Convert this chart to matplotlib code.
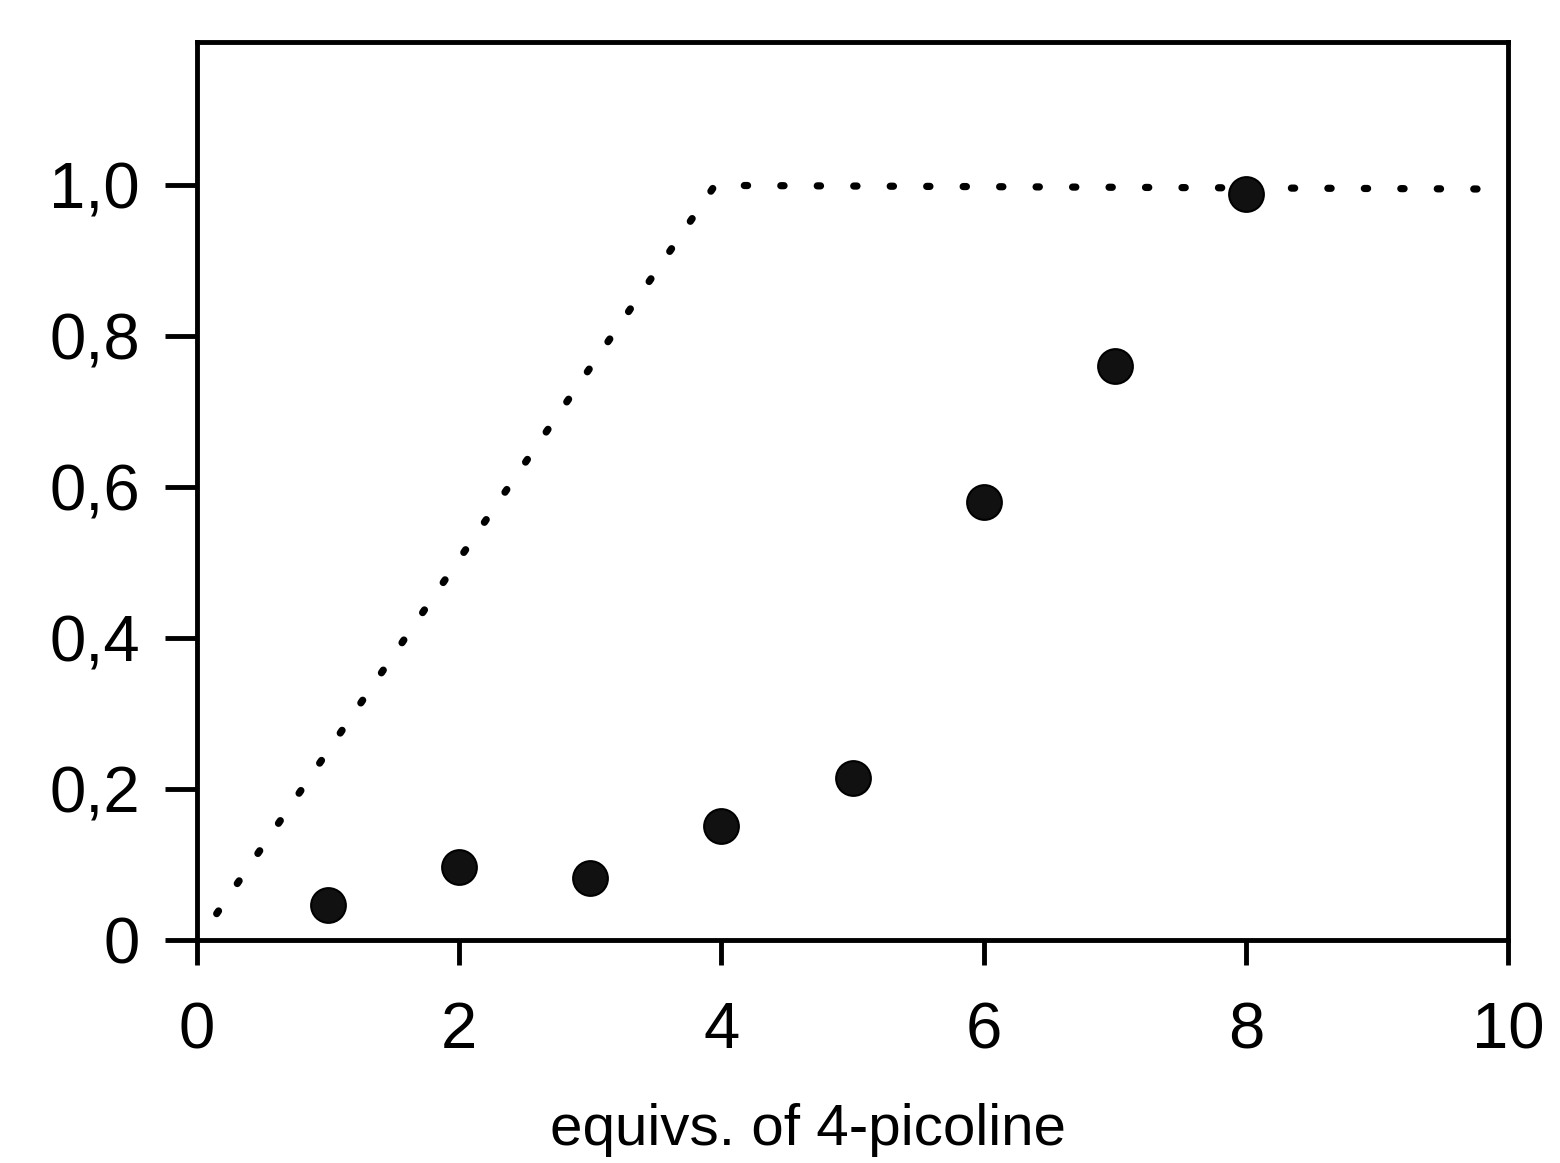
import matplotlib
matplotlib.use("Agg")
import matplotlib.pyplot as plt

# measured points: fraction vs equivalents of 4-picoline
equivs = [1, 2, 3, 4, 5, 6, 7, 8]
fraction = [0.046, 0.097, 0.082, 0.151, 0.215, 0.581, 0.760, 0.989]

# theoretical (dotted) curve
theory_x = [0.15, 3.95, 10.0]
theory_y = [0.035, 1.0, 0.995]

xticks = [0, 2, 4, 6, 8, 10]
yticks = [0, 0.2, 0.4, 0.6, 0.8, 1.0]
ytick_labels = ["0", "0,2", "0,4", "0,6", "0,8", "1,0"]

plt.rcParams['font.family'] = ['Liberation Sans', 'DejaVu Sans']

fig = plt.figure(figsize=(15.6, 11.63), dpi=100)
ax = fig.add_axes([0.1263, 0.1917, 0.8404, 0.7722])

ax.plot(theory_x, theory_y, color='black', lw=5.2, dashes=(0.45, 4.6),
        dash_capstyle='round', zorder=2)
ax.plot(equivs, fraction, 'o', color='#111111', ms=25, mec='black', mew=1.5,
        zorder=3)

ax.set_xlim(0, 10)
ax.set_ylim(0, 1.19)
ax.set_xticks(xticks)
ax.set_xticklabels([str(t) for t in xticks])
ax.set_yticks(yticks)
ax.set_yticklabels(ytick_labels)

for s in ax.spines.values():
    s.set_linewidth(3.5)
ax.tick_params(axis='y', direction='out', length=23, width=3.5, pad=18,
               labelsize=47)
ax.tick_params(axis='x', direction='out', length=18, width=3.5, pad=26,
               labelsize=47)

ax.set_xlabel("equivs. of 4-picoline", fontsize=42)
ax.xaxis.set_label_coords(0.466, -0.181)

fig.savefig("out.png", dpi=100)
